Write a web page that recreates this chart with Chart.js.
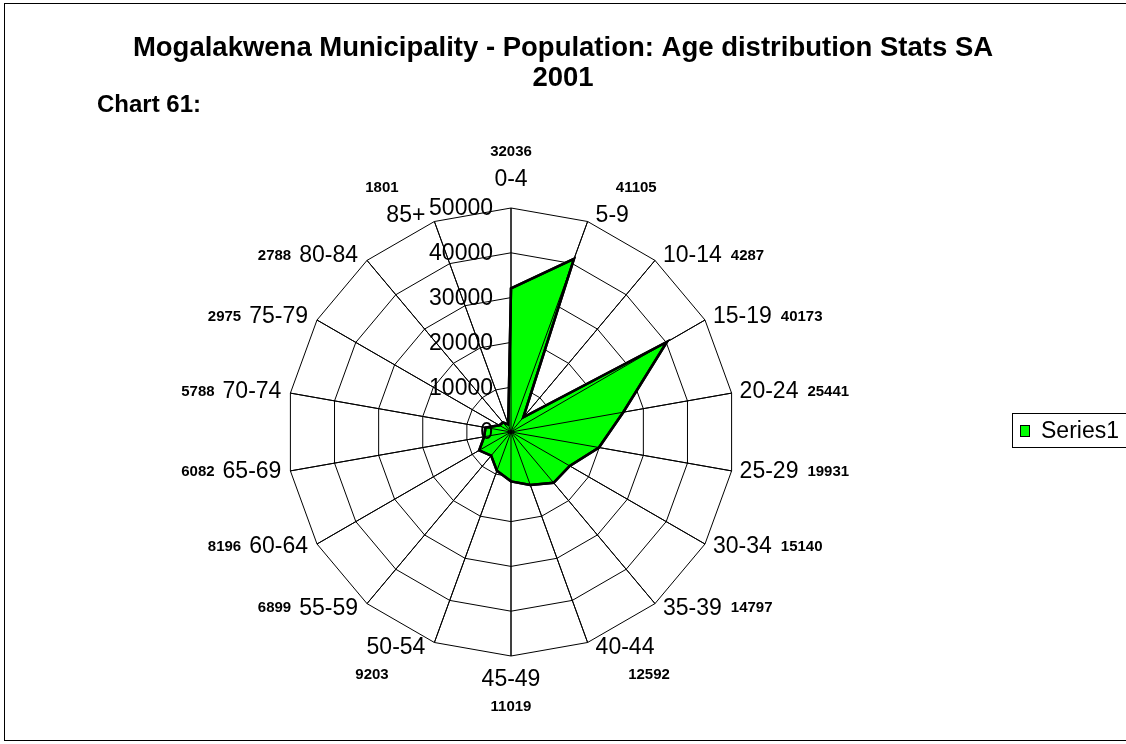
<!DOCTYPE html>
<html>
<head>
<meta charset="utf-8">
<script src="https://cdn.jsdelivr.net/npm/chart.js@4.4.1/dist/chart.umd.min.js"></script>
<style>
  html, body { margin: 0; padding: 0; background: #fff; }
  canvas { display: block; }
</style>
</head>
<body>
<canvas id="chart-age" width="1126" height="744"></canvas>
<script>
const categories = ["0-4", "5-9", "10-14", "15-19", "20-24", "25-29", "30-34", "35-39", "40-44",
  "45-49", "50-54", "55-59", "60-64", "65-69", "70-74", "75-79", "80-84", "85+"];
const population = [32036, 41105, 4287, 40173, 25441, 19931, 15140, 14797, 12592,
  11019, 9203, 6899, 8196, 6082, 5788, 2975, 2788, 1801];
const tickValues = [0, 10000, 20000, 30000, 40000, 50000];
const seriesName = "Series1";
const titleLines = ["Mogalakwena Municipality - Population: Age distribution Stats SA", "2001"];
const chartNote = "Chart 61:";

const FONT = "'Liberation Sans', Arial, sans-serif";
const GREEN = "#00FF00";

// category label placement, Excel style: beside the outer vertex
const labelBox = (ctx, scale, i) => {
  const angle = (i / categories.length) * Math.PI * 2;
  const v = scale.getPointPositionForValue(i, scale.max);
  const sin = Math.sin(angle);
  const cos = Math.cos(angle);
  const w = ctx.measureText(categories[i]).width;
  if (Math.abs(sin) < 0.01) {
    const cy = cos > 0 ? v.y - 28 : v.y + 24;
    return { left: v.x - w / 2, right: v.x + w / 2, cy, angle };
  }
  const cy = v.y - 6 * cos;
  if (sin > 0) return { left: v.x + 8, right: v.x + 8 + w, cy, angle };
  return { left: v.x - 9 - w, right: v.x - 9, cy, angle };
};

const decorPlugin = {
  id: "decor",
  beforeDraw: (chart) => {
    const ctx = chart.ctx;
    ctx.save();
    ctx.fillStyle = "#fff";
    ctx.fillRect(0, 0, chart.width, chart.height);
    ctx.strokeStyle = "#000";
    ctx.lineWidth = 1;
    ctx.strokeRect(4.5, 3.5, chart.width + 10, chart.height - 7);
    ctx.restore();
  },
  afterDatasetsDraw: (chart) => {
    const ctx = chart.ctx;
    const scale = chart.scales.r;
    const xc = scale.xCenter;
    const yc = scale.yCenter;

    ctx.save();
    // spokes sit on top of the filled area
    ctx.strokeStyle = "#000";
    ctx.lineWidth = 1;
    categories.forEach((c, i) => {
      const p = scale.getPointPositionForValue(i, scale.max);
      ctx.beginPath();
      ctx.moveTo(xc, yc);
      ctx.lineTo(p.x, p.y);
      ctx.stroke();
    });

    // outline again over the spokes
    const pts = chart.getDatasetMeta(0).data;
    ctx.beginPath();
    pts.forEach((pt, i) => (i ? ctx.lineTo(pt.x, pt.y) : ctx.moveTo(pt.x, pt.y)));
    ctx.closePath();
    ctx.lineWidth = 2.5;
    ctx.lineJoin = "miter";
    ctx.stroke();

    // value axis labels
    ctx.fillStyle = "#000";
    ctx.font = "23px " + FONT;
    ctx.textAlign = "right";
    ctx.textBaseline = "middle";
    tickValues.forEach((v) => {
      const d = scale.getDistanceFromCenterForValue(v);
      ctx.fillText(String(v), xc - 18, yc - d + 1);
    });

    // category labels
    ctx.textAlign = "left";
    const boxes = categories.map((c, i) => {
      const box = labelBox(ctx, scale, i);
      ctx.fillText(c, box.left, box.cy);
      return box;
    });

    // data labels next to the category labels
    ctx.font = "bold 15px " + FONT;
    population.forEach((v, i) => {
      const box = boxes[i];
      const cx = (box.left + box.right) / 2;
      const sin = Math.sin(box.angle);
      const cos = Math.cos(box.angle);
      if (Math.abs(cos) > 0.9) {
        ctx.textAlign = "center";
        const dx = Math.abs(sin) < 0.01 ? 0 : Math.sign(sin) * 24;
        const dy = cos > 0 ? -28 : 27;
        ctx.fillText(String(v), cx + dx, box.cy + dy);
      } else if (sin > 0) {
        ctx.textAlign = "left";
        ctx.fillText(String(v), box.right + 9, box.cy);
      } else {
        ctx.textAlign = "right";
        ctx.fillText(String(v), box.left - 8, box.cy);
      }
    });

    // title
    ctx.textAlign = "center";
    ctx.font = "bold 27.5px " + FONT;
    titleLines.forEach((t, i) => ctx.fillText(t, 563, 48 + i * 30));
    ctx.textAlign = "left";
    ctx.font = "bold 24px " + FONT;
    ctx.fillText(chartNote, 97, 105);

    // legend
    ctx.lineWidth = 1;
    ctx.strokeStyle = "#000";
    ctx.strokeRect(1012.5, 413.5, 120, 34);
    ctx.fillStyle = GREEN;
    ctx.fillRect(1020.5, 425.5, 9, 11);
    ctx.strokeRect(1020.5, 425.5, 9, 11);
    ctx.fillStyle = "#000";
    ctx.font = "23px " + FONT;
    ctx.fillText(seriesName, 1041, 432);
    ctx.restore();
  },
};

const main = () => {
  const config = {
    type: "radar",
    data: {
      labels: categories,
      datasets: [
        {
          label: seriesName,
          data: population,
          backgroundColor: GREEN,
          borderColor: "#000",
          borderWidth: 2.5,
          fill: true,
          pointRadius: 0,
          tension: 0,
        },
      ],
    },
    options: {
      responsive: false,
      animation: false,
      devicePixelRatio: 1,
      layout: {
        padding: { left: 287, right: 391, top: 208, bottom: 88 },
      },
      scales: {
        r: {
          min: 0,
          max: 50000,
          ticks: { stepSize: 10000, display: false },
          grid: { color: "#000", lineWidth: 1, circular: false },
          angleLines: { color: "#000", lineWidth: 1 },
          pointLabels: { display: false },
        },
      },
      plugins: {
        legend: { display: false },
        tooltip: { enabled: false },
        title: { display: false },
      },
    },
    plugins: [decorPlugin],
  };

  new Chart(document.querySelector("#chart-age"), config);
};

main();
</script>
</body>
</html>
